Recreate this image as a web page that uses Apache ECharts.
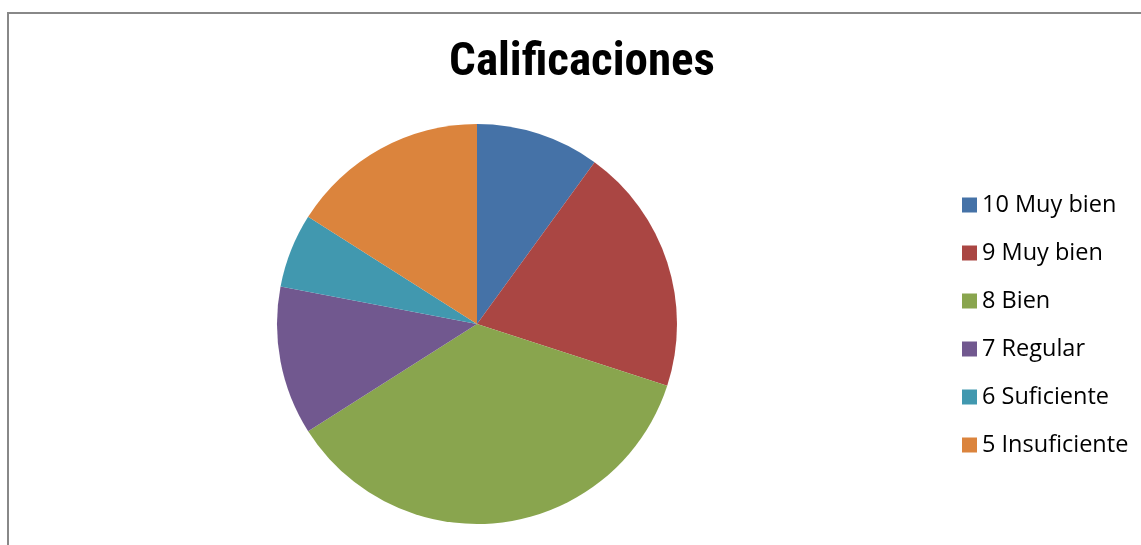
<!DOCTYPE html>
<html>
<head>
<meta charset="utf-8">
<script src="https://cdn.jsdelivr.net/npm/echarts@6/dist/echarts.min.js"></script>
<style>
html,body{margin:0;padding:0;background:#fff;}
#frame{position:absolute;left:7px;top:12px;width:1140px;height:540px;border-left:2px solid #888;border-top:2px solid #888;}
#chart{position:absolute;left:0;top:0;width:1141px;height:545px;}
</style>
</head>
<body>
<div id="frame"></div>
<div id="chart"></div>
<script>
const titleText = 'Calificaciones';
const categories = ['10 Muy bien', '9 Muy bien', '8 Bien', '7 Regular', '6 Suficiente', '5 Insuficiente'];
const values = [5, 10, 18, 6, 3, 8];
const colors = ['#4572A7', '#AA4643', '#89A54E', '#71588F', '#4198AF', '#DB843D'];

const chart = echarts.init(document.getElementById('chart'), null, {renderer: 'canvas'});
chart.setOption({
  animation: false,
  color: colors,
  title: {
    text: titleText,
    left: 582, top: 40,
    textAlign: 'center',
    padding: 0,
    textStyle: {fontFamily: '"Liberation Sans Narrow", "Arial Narrow", "Roboto Condensed", sans-serif', fontWeight: 'bold', fontSize: 47, color: '#000'}
  },
  legend: {
    orient: 'vertical',
    left: 962, top: 193,
    padding: 0,
    itemWidth: 15, itemHeight: 15,
    itemGap: 24,
    icon: 'rect',
    data: categories,
    textStyle: {fontFamily: '"Open Sans", sans-serif', fontSize: 23.5, lineHeight: 24, color: '#000'}
  },
  series: [{
    type: 'pie',
    center: [477, 324],
    radius: 200,
    startAngle: 90,
    clockwise: true,
    label: {show: false},
    labelLine: {show: false},
    emphasis: {disabled: true},
    itemStyle: {borderWidth: 0},
    data: categories.map((c, i) => ({name: c, value: values[i]}))
  }]
});
</script>
</body>
</html>
